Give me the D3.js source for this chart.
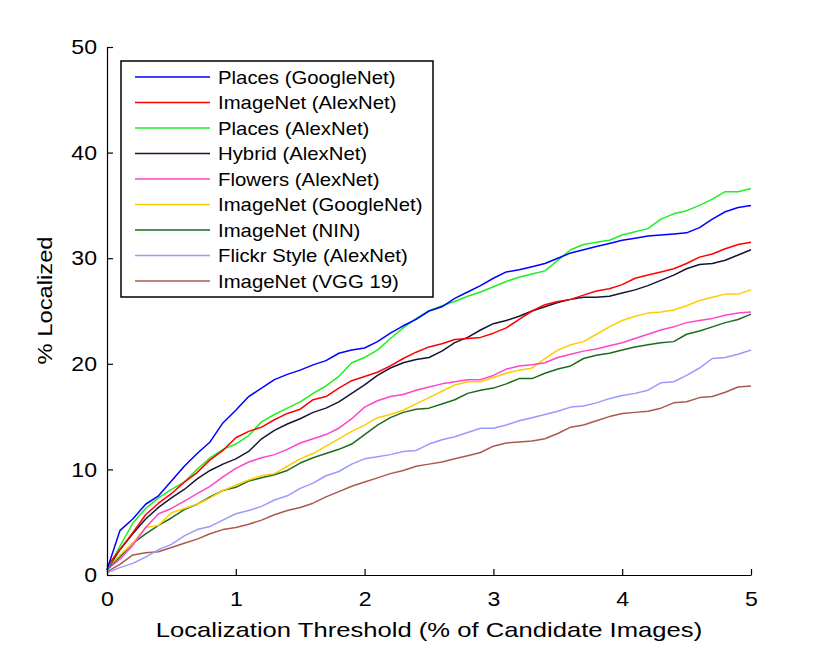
<!DOCTYPE html>
<html>
<head>
<meta charset="utf-8">
<script src="https://cdn.jsdelivr.net/npm/d3@7"></script>
<style>
  body { margin: 0; background: #fff; }
  text { font-family: "Liberation Sans", Arial, sans-serif; fill: #000; }
</style>
</head>
<body>
<script>
// x grid: localization threshold (% of candidate images), step 0.1
const thresholds = d3.range(0, 51).map(i => i / 10);

const seriesNames = [
  "Places (GoogleNet)", "ImageNet (AlexNet)", "Places (AlexNet)",
  "Hybrid (AlexNet)", "Flowers (AlexNet)", "ImageNet (GoogleNet)",
  "ImageNet (NIN)", "Flickr Style (AlexNet)", "ImageNet (VGG 19)"
];
const seriesColors = ["#0000ff", "#ff0000", "#22ee22", "#151535", "#ff44cc",
  "#ffcc00", "#1d6b1d", "#9999ff", "#aa5a4a"];

const placesGoogleNet = [0.5, 4.2, 5.3, 6.7, 7.5, 8.9, 10.3, 11.5, 12.6, 14.4, 15.6,
  16.9, 17.7, 18.5, 19.0, 19.4, 19.9, 20.3, 21.0, 21.3, 21.5,
  22.1, 22.9, 23.6, 24.2, 25.0, 25.4, 26.2, 26.8, 27.4, 28.1,
  28.7, 28.9, 29.2, 29.5, 30.0, 30.5, 30.8, 31.1, 31.4, 31.7,
  31.9, 32.1, 32.2, 32.3, 32.4, 32.9, 33.7, 34.4, 34.8, 35.0];
const imageNetAlexNet = [0.8, 2.4, 4.0, 5.7, 6.8, 7.7, 8.8, 9.7, 10.9, 11.8, 13.0,
  13.6, 14.0, 14.7, 15.3, 15.7, 16.6, 16.9, 17.7, 18.4, 18.8,
  19.2, 19.8, 20.5, 21.1, 21.6, 21.9, 22.3, 22.4, 22.5, 22.9,
  23.4, 24.2, 25.0, 25.6, 25.9, 26.1, 26.5, 26.9, 27.1, 27.5,
  28.1, 28.4, 28.7, 29.0, 29.5, 30.1, 30.4, 30.9, 31.3, 31.5];
const placesAlexNet = [0.5, 2.7, 4.9, 6.3, 7.3, 8.1, 8.8, 10.0, 11.1, 11.9, 12.4,
  13.2, 14.5, 15.2, 15.8, 16.4, 17.2, 17.9, 18.8, 20.1, 20.6,
  21.3, 22.4, 23.4, 24.3, 25.0, 25.5, 25.9, 26.4, 26.8, 27.3,
  27.8, 28.2, 28.5, 28.8, 29.8, 30.8, 31.3, 31.5, 31.7, 32.2,
  32.5, 32.8, 33.7, 34.2, 34.5, 35.0, 35.6, 36.3, 36.3, 36.6];
const hybridAlexNet = [0.5, 2.4, 3.9, 5.3, 6.4, 7.3, 8.1, 9.1, 9.9, 10.5, 11.0,
  11.7, 12.9, 13.7, 14.3, 14.8, 15.4, 15.8, 16.4, 17.2, 18.0,
  18.9, 19.6, 20.1, 20.4, 20.6, 21.2, 22.0, 22.5, 23.2, 23.8,
  24.1, 24.5, 25.0, 25.4, 25.8, 26.1, 26.3, 26.3, 26.4, 26.7,
  27.0, 27.4, 27.9, 28.4, 29.0, 29.4, 29.5, 29.8, 30.3, 30.8];
const flowersAlexNet = [0.5, 1.5, 2.8, 4.5, 5.8, 6.3, 7.0, 7.7, 8.4, 9.3, 10.1,
  10.7, 11.1, 11.4, 11.9, 12.5, 12.9, 13.3, 13.9, 14.8, 15.9,
  16.5, 16.9, 17.1, 17.5, 17.8, 18.1, 18.3, 18.5, 18.5, 18.9,
  19.5, 19.8, 19.9, 20.1, 20.6, 20.9, 21.2, 21.4, 21.7, 22.0,
  22.4, 22.8, 23.2, 23.5, 23.9, 24.1, 24.3, 24.6, 24.8, 24.9];
const imageNetGoogleNet = [0.7, 1.9, 3.0, 4.5, 4.7, 5.9, 6.3, 6.7, 7.3, 8.0, 8.5,
  9.0, 9.4, 9.6, 10.3, 11.0, 11.5, 12.2, 12.9, 13.6, 14.2,
  14.9, 15.2, 15.6, 16.2, 16.8, 17.4, 18.0, 18.3, 18.3, 18.7,
  19.1, 19.4, 19.6, 20.5, 21.3, 21.8, 22.1, 22.8, 23.5, 24.1,
  24.5, 24.8, 24.9, 25.1, 25.5, 26.0, 26.3, 26.6, 26.6, 27.0];
const imageNetNIN = [0.5, 1.7, 3.0, 3.9, 4.7, 5.4, 6.2, 6.7, 7.4, 8.0, 8.3,
  8.9, 9.2, 9.5, 9.9, 10.6, 11.1, 11.5, 11.9, 12.4, 13.3,
  14.2, 14.9, 15.4, 15.7, 15.8, 16.2, 16.6, 17.2, 17.5, 17.7,
  18.1, 18.6, 18.6, 19.1, 19.5, 19.8, 20.5, 20.8, 21.0, 21.3,
  21.6, 21.8, 22.0, 22.1, 22.8, 23.1, 23.5, 23.9, 24.2, 24.7];
const flickrStyleAlexNet = [0.2, 0.7, 1.1, 1.7, 2.4, 2.9, 3.7, 4.3, 4.6, 5.2, 5.8,
  6.1, 6.5, 7.1, 7.5, 8.2, 8.7, 9.4, 9.8, 10.5, 11.0,
  11.2, 11.4, 11.7, 11.8, 12.4, 12.8, 13.1, 13.5, 13.9, 13.9,
  14.2, 14.6, 14.9, 15.2, 15.5, 15.9, 16.0, 16.3, 16.7, 17.0,
  17.2, 17.5, 18.2, 18.3, 18.9, 19.6, 20.5, 20.6, 20.9, 21.3];
const imageNetVGG19 = [0.3, 1.0, 1.9, 2.1, 2.2, 2.6, 3.0, 3.4, 3.9, 4.3, 4.5,
  4.8, 5.2, 5.7, 6.1, 6.4, 6.8, 7.4, 7.9, 8.4, 8.8,
  9.2, 9.6, 9.9, 10.3, 10.5, 10.7, 11.0, 11.3, 11.6, 12.2,
  12.5, 12.6, 12.7, 12.9, 13.4, 14.0, 14.2, 14.6, 15.0, 15.3,
  15.4, 15.5, 15.8, 16.3, 16.4, 16.8, 16.9, 17.3, 17.8, 17.9];

const xTicks = [0, 1, 2, 3, 4, 5];
const yTicks = [0, 10, 20, 30, 40, 50];

const allSeries = [placesGoogleNet, imageNetAlexNet, placesAlexNet, hybridAlexNet,
  flowersAlexNet, imageNetGoogleNet, imageNetNIN, flickrStyleAlexNet, imageNetVGG19];

const svgWidth = 830, svgHeight = 646;
const margin = { top: 47, right: 79, bottom: 71, left: 107 };
const width = svgWidth - margin.left - margin.right;
const height = svgHeight - margin.top - margin.bottom;

const svg = d3.select("body").append("svg")
  .attr("width", svgWidth)
  .attr("height", svgHeight);

const chart = svg.append("g")
  .attr("transform", `translate(${margin.left}, ${margin.top})`);

const x = d3.scaleLinear().domain([0, 5]).range([0, width]);
const y = d3.scaleLinear().domain([0, 50]).range([height, 0]);

// the reference font is a bit wider than Liberation Sans, stretch it a little
function widen(sel, factor) {
  sel.each(function() {
    const len = this.getComputedTextLength();
    d3.select(this)
      .attr("textLength", len * factor)
      .attr("lengthAdjust", "spacingAndGlyphs");
  });
}

const line = d3.line()
  .x((d, i) => x(thresholds[i]))
  .y(d => y(d));

// drawn in reverse so the first series ends up on top
allSeries.slice().reverse().forEach((s, k) => {
  const i = allSeries.length - 1 - k;
  chart.append("path")
    .datum(s)
    .attr("fill", "none")
    .attr("stroke", seriesColors[i])
    .attr("stroke-width", 1.5)
    .attr("stroke-linejoin", "round")
    .attr("d", line);
});

// axes, ticks pointing inward like matlab
const xAxis = chart.append("g")
  .attr("transform", `translate(0, ${height})`)
  .call(d3.axisBottom(x).tickValues(xTicks).tickFormat(d3.format("d"))
    .tickSizeInner(-6).tickSizeOuter(0).tickPadding(12));
const yAxis = chart.append("g")
  .call(d3.axisLeft(y).tickValues(yTicks).tickFormat(d3.format("d"))
    .tickSizeInner(-6).tickSizeOuter(0).tickPadding(10));

[xAxis, yAxis].forEach(a => {
  a.select(".domain").attr("stroke", "#000").attr("stroke-width", 1.2);
  a.selectAll(".tick line").attr("stroke", "#000").attr("stroke-width", 1.2);
  a.selectAll(".tick text")
    .attr("font-size", 21)
    .attr("font-family", "Liberation Sans, Arial, sans-serif")
    .attr("fill", "#000")
    .call(widen, 1.1);
});
xAxis.selectAll(".tick text").attr("dy", "0.9em");

// axis titles
chart.append("text")
  .attr("x", width / 2)
  .attr("y", height + 62)
  .attr("text-anchor", "middle")
  .attr("font-size", 21)
  .text("Localization Threshold (% of Candidate Images)")
  .call(widen, 1.22);

chart.append("text")
  .attr("transform", `translate(${-55}, ${y(26)}) rotate(-90)`)
  .attr("text-anchor", "middle")
  .attr("font-size", 21)
  .text("% Localized")
  .call(widen, 1.13);

// legend
const legend = svg.append("g").attr("transform", "translate(121, 61)");
legend.append("rect")
  .attr("width", 312)
  .attr("height", 236)
  .attr("fill", "#fff")
  .attr("stroke", "#000")
  .attr("stroke-width", 1.5);

seriesNames.forEach((name, i) => {
  const row = legend.append("g").attr("transform", `translate(0, ${16 + i * 25.5})`);
  row.append("line")
    .attr("x1", 14).attr("x2", 89)
    .attr("stroke", seriesColors[i])
    .attr("stroke-width", 1.5);
  row.append("text")
    .attr("x", 97)
    .attr("dy", "0.35em")
    .attr("font-size", 19)
    .text(name)
    .call(widen, 1.07);
});
</script>
</body>
</html>
